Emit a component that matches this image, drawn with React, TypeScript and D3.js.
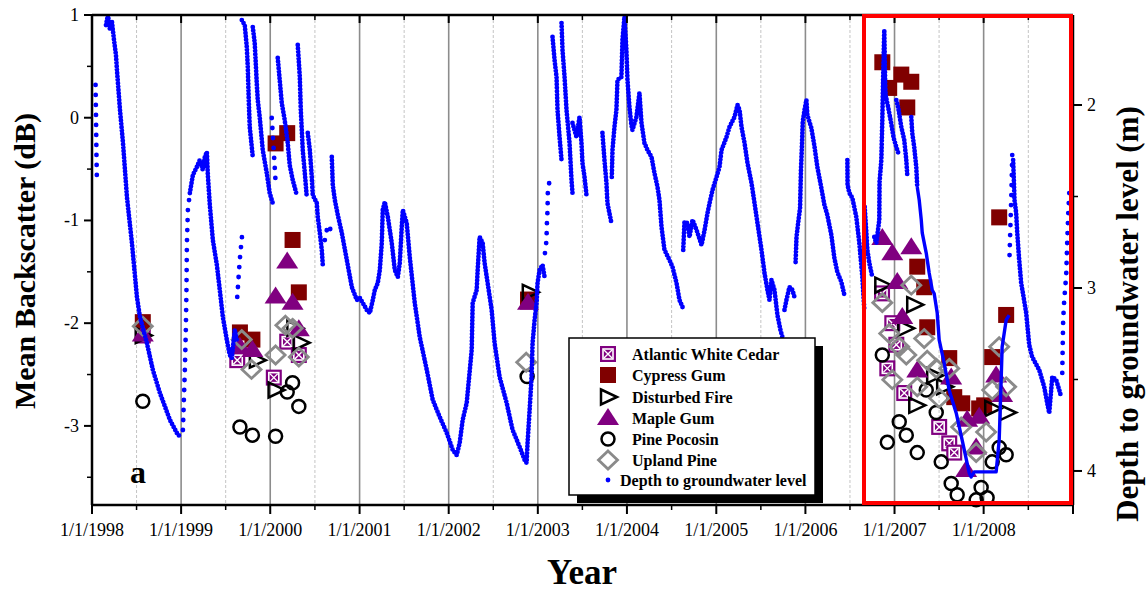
import React from "react";
import * as d3 from "d3";

// ---- data -------------------------------------------------------------
// [decimal year, value]
type Pt = [number, number];

const yearTicks = [1998, 1999, 2000, 2001, 2002, 2003, 2004, 2005, 2006, 2007, 2008];
const backscatterTicks = [1, 0, -1, -2, -3];
const depthTicks = [2, 3, 4];

// Mean backscatter (dB) by forest type
const atlanticWhiteCedar: Pt[] = [
  [1998.57, -2.12], [1999.63, -2.36], [2000.04, -2.53], [2000.19, -2.18], [2000.32, -2.31], [2002.89, -1.79],
  [2006.86, -1.71], [2006.975, -2.0], [2006.919, -2.44], [2007.02, -2.21], [2007.109, -2.68],
  [2007.501, -3.01], [2007.614, -3.17], [2007.67, -3.26],
];
const cypressGum: Pt[] = [
  [1998.57, -1.99], [1999.66, -2.09], [1999.8, -2.16], [2000.06, -0.25], [2000.19, -0.15], [2000.25, -1.19],
  [2000.32, -1.7], [2002.89, -1.77],
  [2006.863, 0.54], [2006.94, 0.29], [2007.076, 0.42], [2007.188, 0.35], [2007.143, 0.1],
  [2007.255, -1.45], [2007.333, -1.65], [2007.367, -2.04], [2007.614, -2.34], [2007.67, -2.72],
  [2007.76, -2.78], [2007.95, -2.83], [2008.006, -2.8], [2008.096, -2.33], [2008.174, -0.97], [2008.252, -1.92],
];
const disturbedFire: Pt[] = [
  [1998.57, -2.12], [1999.85, -2.36], [2000.06, -2.65], [2000.27, -2.05], [2000.34, -2.19], [2002.91, -1.7],
  [2006.863, -1.63], [2007.221, -1.82], [2007.12, -2.05], [2007.244, -2.8], [2007.445, -2.51],
  [2007.557, -2.62], [2008.096, -2.83], [2008.263, -2.87],
];
const mapleGum: Pt[] = [
  [1998.57, -2.11], [1999.66, -2.23], [1999.8, -2.26], [2000.06, -1.74], [2000.19, -1.4], [2000.25, -1.8],
  [2000.32, -2.06], [2002.89, -1.8],
  [2006.863, -1.17], [2006.975, -1.32], [2007.188, -1.26], [2007.031, -1.6], [2007.087, -1.94],
  [2007.255, -2.46], [2007.636, -2.53], [2007.815, -2.94], [2007.95, -2.91], [2007.916, -3.21],
  [2007.804, -3.43], [2008.14, -2.51], [2008.207, -2.7],
];
const pinePocosin: Pt[] = [
  [1998.57, -2.76], [1999.66, -3.01], [1999.8, -3.09], [2000.06, -3.1], [2000.19, -2.67], [2000.25, -2.58],
  [2000.32, -2.81], [2002.88, -2.52],
  [2006.863, -2.31], [2007.053, -2.96], [2007.132, -3.09], [2006.919, -3.16], [2007.255, -3.26],
  [2007.356, -2.65], [2007.468, -2.87], [2007.524, -3.35], [2007.636, -3.56], [2007.703, -3.67],
  [2007.916, -3.72], [2007.972, -3.6], [2008.039, -3.7], [2008.096, -3.35], [2008.174, -3.21], [2008.252, -3.28],
];
const uplandPine: Pt[] = [
  [1998.57, -2.03], [1999.68, -2.16], [1999.79, -2.45], [2000.06, -2.31], [2000.17, -2.02], [2000.25, -2.05],
  [2000.32, -2.33], [2002.87, -2.38],
  [2006.863, -1.8], [2007.188, -1.63], [2006.941, -2.1], [2007.053, -2.23], [2007.132, -2.31],
  [2007.333, -2.15], [2006.975, -2.55], [2007.367, -2.36], [2007.468, -2.44], [2007.614, -2.44],
  [2007.255, -2.62], [2007.501, -2.73], [2007.748, -3.01], [2008.028, -3.06], [2007.916, -3.26],
  [2008.174, -2.23], [2008.096, -2.65], [2008.252, -2.62],
];

// Depth to groundwater level (m); each run is a stretch of record without gaps
const groundwaterSegments: Pt[][] = [
  [[1998.04, 1.89], [1998.045, 2.06], [1998.05, 2.27], [1998.055, 2.41]],
  [[1998.157, 1.563], [1998.179, 1.508], [1998.202, 1.59], [1998.224, 1.546], [1998.247, 1.645], [1998.269, 1.727],
   [1998.28, 1.809], [1998.314, 2.027], [1998.348, 2.208], [1998.392, 2.503], [1998.448, 2.754], [1998.504, 3.049],
   [1998.538, 3.158], [1998.616, 3.301], [1998.683, 3.448], [1998.762, 3.574], [1998.874, 3.721], [1998.964, 3.803],
   [1999.008, 3.814]],
  [[1999.02, 3.776], [1999.031, 3.612], [1999.042, 3.448], [1999.053, 3.23], [1999.06, 3.011],
   [1999.065, 2.754], [1999.076, 2.574], [1999.098, 2.481]],
  [[1999.098, 2.481], [1999.132, 2.383], [1999.176, 2.339], [1999.21, 2.301],
   [1999.244, 2.355], [1999.266, 2.284], [1999.289, 2.257], [1999.3, 2.383], [1999.322, 2.546], [1999.356, 2.738],
   [1999.401, 2.874], [1999.434, 3.011], [1999.468, 3.158], [1999.513, 3.284], [1999.546, 3.366], [1999.569, 3.383],
   [1999.602, 3.23], [1999.625, 3.284]],
  [[1999.63, 3.049], [1999.658, 2.847], [1999.692, 2.672]],
  [[1999.681, 1.536], [1999.714, 1.563], [1999.737, 1.683], [1999.748, 1.792], [1999.759, 1.973], [1999.77, 2.12],
   [1999.793, 2.23], [1999.804, 2.284]],
  [[1999.804, 1.574], [1999.826, 1.661], [1999.849, 1.88], [1999.86, 1.973], [1999.882, 2.066], [1999.916, 2.246],
   [1999.961, 2.372], [1999.994, 2.481], [2000.028, 2.536]],
  [[2000.017, 2.071], [2000.039, 2.246], [2000.062, 2.437]],
  [[2000.084, 1.743], [2000.106, 1.863], [2000.129, 1.989], [2000.162, 2.082], [2000.196, 2.208], [2000.218, 2.328],
   [2000.252, 2.41], [2000.297, 2.492]],
  [[2000.308, 1.672], [2000.331, 1.847], [2000.342, 2.027], [2000.364, 2.246], [2000.387, 2.372], [2000.409, 2.503]],
  [[2000.42, 2.153], [2000.443, 2.246], [2000.465, 2.393], [2000.476, 2.492], [2000.521, 2.536], [2000.532, 2.612],
   [2000.555, 2.699], [2000.577, 2.792], [2000.588, 2.874]],
  [[2000.611, 2.738], [2000.633, 2.683], [2000.667, 2.656], [2000.678, 2.71]],
  [[2000.689, 2.284], [2000.7, 2.437], [2000.723, 2.519], [2000.756, 2.601], [2000.801, 2.699], [2000.857, 2.847],
   [2000.913, 2.995], [2000.969, 3.066], [2001.003, 3.055], [2001.036, 3.082], [2001.081, 3.12], [2001.115, 3.137],
   [2001.148, 3.066], [2001.171, 3.011], [2001.204, 2.973], [2001.227, 2.902], [2001.249, 2.754], [2001.26, 2.574],
   [2001.283, 2.53], [2001.317, 2.612], [2001.361, 2.754], [2001.395, 2.902], [2001.429, 2.94], [2001.451, 2.863],
   [2001.473, 2.667], [2001.485, 2.574], [2001.529, 2.645], [2001.563, 2.831], [2001.619, 3.082], [2001.675, 3.268],
   [2001.754, 3.448], [2001.821, 3.612], [2001.899, 3.705], [2001.978, 3.792], [2002.045, 3.885], [2002.09, 3.913],
   [2002.123, 3.847], [2002.157, 3.721], [2002.202, 3.628], [2002.258, 3.339], [2002.269, 3.082], [2002.314, 3.011],
   [2002.325, 2.902], [2002.347, 2.721], [2002.381, 2.754], [2002.403, 2.863], [2002.437, 2.973], [2002.482, 3.12],
   [2002.515, 3.301], [2002.571, 3.486], [2002.65, 3.628], [2002.717, 3.776], [2002.796, 3.869], [2002.852, 3.94],
   [2002.874, 3.956], [2002.885, 3.847], [2002.908, 3.667], [2002.93, 3.486], [2002.941, 3.301], [2002.964, 3.175],
   [2002.986, 3.082], [2002.997, 2.973], [2003.02, 2.902], [2003.053, 2.874], [2003.076, 2.94]],
  [[2003.08, 2.809], [2003.098, 2.738], [2003.1, 2.667], [2003.109, 2.574], [2003.112, 2.481], [2003.132, 2.41]],
  [[2003.165, 1.628], [2003.188, 1.754], [2003.21, 1.847], [2003.221, 2.027], [2003.244, 2.175], [2003.266, 2.301]],
  [[2003.266, 1.552], [2003.277, 1.699], [2003.3, 1.847], [2003.322, 2.027], [2003.356, 2.208], [2003.378, 2.41],
   [2003.389, 2.481]],
  [[2003.389, 2.098], [2003.434, 2.175], [2003.468, 2.066], [2003.49, 2.208], [2003.501, 2.317], [2003.524, 2.393],
   [2003.546, 2.492]],
  [[2003.725, 2.153], [2003.748, 2.301], [2003.77, 2.426], [2003.781, 2.536], [2003.826, 2.645]],
  [[2003.83, 2.393], [2003.838, 2.246], [2003.86, 2.12], [2003.882, 2.027], [2003.894, 1.863], [2003.938, 1.847],
   [2003.95, 1.645], [2003.972, 1.519], [2003.994, 1.699], [2004.006, 1.863], [2004.028, 2.011], [2004.05, 2.109],
   [2004.062, 2.137], [2004.106, 2.066], [2004.14, 1.934], [2004.163, 2.098], [2004.196, 2.208], [2004.23, 2.246],
   [2004.275, 2.284], [2004.308, 2.372], [2004.342, 2.448], [2004.364, 2.519], [2004.387, 2.667], [2004.42, 2.792],
   [2004.476, 2.847], [2004.51, 2.885], [2004.555, 2.973], [2004.588, 3.066], [2004.622, 3.104]],
  [[2004.63, 2.792], [2004.644, 2.639], [2004.678, 2.645], [2004.7, 2.721], [2004.734, 2.628], [2004.779, 2.683],
   [2004.835, 2.765], [2004.869, 2.683], [2004.902, 2.59], [2004.925, 2.536], [2004.958, 2.464], [2005.003, 2.393],
   [2005.036, 2.339], [2005.059, 2.246], [2005.115, 2.175], [2005.148, 2.12], [2005.204, 2.066], [2005.238, 2.0],
   [2005.261, 2.027], [2005.283, 2.12], [2005.317, 2.208], [2005.35, 2.317], [2005.395, 2.426], [2005.429, 2.536],
   [2005.462, 2.645], [2005.507, 2.792], [2005.541, 2.918], [2005.574, 3.011], [2005.597, 3.066], [2005.619, 2.956],
   [2005.653, 3.011], [2005.686, 3.148], [2005.72, 3.23], [2005.742, 3.268]],
  [[2005.765, 3.12], [2005.787, 3.066], [2005.821, 2.995], [2005.854, 3.011], [2005.877, 3.049]],
  [[2005.89, 2.858], [2005.9, 2.721], [2005.92, 2.639], [2005.94, 2.563], [2005.95, 2.355], [2005.96, 2.235],
   [2005.97, 2.093], [2005.99, 2.027], [2006.011, 1.973], [2006.022, 2.055], [2006.067, 2.126], [2006.101, 2.224],
   [2006.134, 2.339], [2006.179, 2.454], [2006.213, 2.546], [2006.246, 2.601], [2006.291, 2.71], [2006.325, 2.836],
   [2006.358, 2.913], [2006.403, 2.967], [2006.437, 3.038]],
  [[2006.471, 2.301], [2006.473, 2.437], [2006.493, 2.481], [2006.527, 2.508], [2006.571, 2.612], [2006.605, 2.754],
   [2006.639, 2.94], [2006.661, 3.12]],
  [[2006.665, 2.557], [2006.684, 2.699], [2006.695, 2.792], [2006.717, 2.863], [2006.751, 2.94]],
  [[2006.773, 2.721], [2006.796, 2.754], [2006.829, 2.628], [2006.832, 2.421], [2006.852, 2.301], [2006.863, 2.082],
   [2006.874, 1.809], [2006.885, 1.59], [2006.89, 1.738], [2006.895, 1.88], [2006.9, 1.945], [2006.93, 2.016],
   [2006.96, 2.093], [2006.99, 2.18], [2007.02, 2.23], [2007.05, 2.273]],
  [[2007.02, 1.973], [2007.042, 2.016], [2007.076, 2.12], [2007.109, 2.191], [2007.132, 2.301], [2007.143, 2.383]],
  [[2007.188, 2.066], [2007.199, 2.153], [2007.221, 2.23], [2007.244, 2.339], [2007.255, 2.448]],
  [[2008.29, 2.82], [2008.3, 2.656], [2008.31, 2.492], [2008.32, 2.273]],
  [[2008.33, 2.301], [2008.34, 2.437], [2008.345, 2.519], [2008.364, 2.59], [2008.376, 2.699], [2008.398, 2.847],
   [2008.42, 2.973], [2008.443, 3.038], [2008.476, 3.137], [2008.51, 3.311], [2008.543, 3.377], [2008.622, 3.448],
   [2008.678, 3.541], [2008.711, 3.628], [2008.734, 3.683], [2008.756, 3.557], [2008.768, 3.486], [2008.812, 3.503],
   [2008.846, 3.557], [2008.868, 3.596]],
  [[2008.88, 3.464], [2008.885, 3.311], [2008.89, 3.175], [2008.902, 3.066], [2008.924, 2.929], [2008.936, 2.738],
   [2008.947, 2.59], [2008.958, 2.481]],
];
// runs with few readings (rapid recharge events) are dotted more loosely
const sparseRuns = [0, 2, 4, 7, 11, 13, 27, 29];

// 2007-2008 drought: record drawn as a connected line
const groundwaterLine2007: Pt[] = [
  [2007.255, 2.448], [2007.277, 2.519], [2007.3, 2.628], [2007.311, 2.699], [2007.356, 2.809], [2007.389, 2.918],
  [2007.423, 3.011], [2007.445, 3.03], [2007.479, 3.137], [2007.501, 3.284], [2007.557, 3.41], [2007.613, 3.557],
  [2007.692, 3.683], [2007.759, 3.831], [2007.838, 4.011], [2007.86, 4.033], [2007.894, 4.005], [2008.14, 4.005],
  [2008.174, 3.831], [2008.196, 3.503], [2008.207, 3.322], [2008.252, 3.175], [2008.286, 3.148],
];

// ---- layout -----------------------------------------------------------
const W = 1147;
const H = 592;
const L = 92, R = 1073, T = 15, B = 505;
const SERIF = "'Liberation Serif', 'Times New Roman', serif";
const PURPLE = "#800080";
const MAROON = "#800000";
const GREY = "#8a8a8a";
const BLUE = "#0000ff";

const toDate = (y: number) => {
  const y0 = Math.floor(y);
  const a = Date.UTC(y0, 0, 1);
  const b = Date.UTC(y0 + 1, 0, 1);
  return new Date(a + (y - y0) * (b - a));
};

const x = d3.scaleUtc().domain([toDate(1998), toDate(2009)]).range([L, R]);
const yL = d3.scaleLinear().domain([1, -3.77]).range([T, B]);
const yR = d3.scaleLinear().domain([1.508, 4.186]).range([T, B]);

type Kind = "awc" | "cypress" | "fire" | "maple" | "pine" | "upland";

function Marker({ kind, cx, cy }: { kind: Kind; cx: number; cy: number }) {
  switch (kind) {
    case "cypress":
      return <rect x={cx - 8} y={cy - 8} width={16} height={16} fill={MAROON} />;
    case "awc":
      return (
        <g>
          <rect x={cx - 8} y={cy - 8} width={16} height={16} fill={PURPLE} />
          <rect x={cx - 5} y={cy - 5} width={10} height={10} fill="none" stroke="#fff" strokeWidth={1.6} />
          <path d={`M${cx - 4},${cy - 4}L${cx + 4},${cy + 4}M${cx + 4},${cy - 4}L${cx - 4},${cy + 4}`} stroke="#fff" strokeWidth={1.4} />
        </g>
      );
    case "fire":
      return (
        <path d={`M${cx - 7},${cy - 7.5}L${cx + 9},${cy}L${cx - 7},${cy + 7.5}Z`} fill="none" stroke="#000" strokeWidth={2.5} strokeLinejoin="miter" />
      );
    case "maple":
      return <path d={`M${cx},${cy - 10}L${cx + 11},${cy + 7}L${cx - 11},${cy + 7}Z`} fill={PURPLE} />;
    case "pine":
      return <circle cx={cx} cy={cy} r={6.5} fill="none" stroke="#000" strokeWidth={2.5} />;
    case "upland":
      return (
        <path d={`M${cx},${cy - 9}L${cx + 9.5},${cy}L${cx},${cy + 9}L${cx - 9.5},${cy}Z`} fill="none" stroke={GREY} strokeWidth={2.8} />
      );
  }
}

const seriesList: { kind: Kind; label: string; data: Pt[] }[] = [
  { kind: "awc", label: "Atlantic White Cedar", data: atlanticWhiteCedar },
  { kind: "cypress", label: "Cypress Gum", data: cypressGum },
  { kind: "fire", label: "Disturbed Fire", data: disturbedFire },
  { kind: "maple", label: "Maple Gum", data: mapleGum },
  { kind: "pine", label: "Pine Pocosin", data: pinePocosin },
  { kind: "upland", label: "Upland Pine", data: uplandPine },
];

export default function App() {
  const line = d3
    .line<Pt>()
    .x((d) => x(toDate(d[0])))
    .y((d) => yR(d[1]));

  const midYears = yearTicks.map((y) => y + 0.5);
  const gridYears = yearTicks.slice(1);
  const minorLeft = [0.5, -0.5, -1.5, -2.5, -3.5];
  const minorRight = [2.5, 3.5];

  const legendX = 569, legendY = 338, legendW = 246, legendH = 157;
  const rowY = [354, 375, 397, 418, 439, 460, 480];

  return (
    <svg
      width={W}
      height={H}
      viewBox={`0 0 ${W} ${H}`}
      style={{ position: "absolute", left: 0, top: 0, display: "block", background: "#fff" }}
      fontFamily={SERIF}
    >
      <defs>
        <clipPath id="plotClip">
          <rect x={L} y={T} width={R - L} height={B - T} />
        </clipPath>
      </defs>

      {/* grid */}
      {midYears.map((y) => (
        <line key={"m" + y} x1={x(toDate(y))} x2={x(toDate(y))} y1={T} y2={B} stroke="#c4c4c4" strokeWidth={1} strokeDasharray="3 2" />
      ))}
      {gridYears.map((y) => (
        <line key={"g" + y} x1={x(toDate(y))} x2={x(toDate(y))} y1={T} y2={B} stroke="#8c8c8c" strokeWidth={1.6} />
      ))}

      {/* backscatter markers */}
      {seriesList.map((s) => (
        <g key={s.kind}>
          {s.data.map((d, i) => (
            <Marker key={i} kind={s.kind} cx={x(toDate(d[0]))} cy={yL(d[1])} />
          ))}
        </g>
      ))}

      {/* groundwater depth */}
      <g clipPath="url(#plotClip)">
        {groundwaterSegments.map((seg, i) => (
          <path
            key={i}
            d={line(seg) || ""}
            fill="none"
            stroke={BLUE}
            strokeWidth={4.8}
            strokeLinecap="round"
            strokeDasharray={sparseRuns.includes(i) ? "0 10" : "0 3.4"}
          />
        ))}
        <path d={line(groundwaterLine2007) || ""} fill="none" stroke={BLUE} strokeWidth={3.4} strokeLinejoin="round" />
      </g>

      {/* frame */}
      <line x1={L} x2={L} y1={T} y2={B} stroke="#000" strokeWidth={2.5} />
      <line x1={L} x2={R} y1={B} y2={B} stroke="#000" strokeWidth={2.5} />
      <line x1={L} x2={R} y1={T} y2={T} stroke="#000" strokeWidth={2.5} />
      <line x1={R} x2={R} y1={T} y2={B} stroke="#000" strokeWidth={2.5} />

      {/* x ticks, bottom (outward) and top (inward) */}
      {[...yearTicks, 2009].map((y) => (
        <g key={"xt" + y}>
          <line x1={x(toDate(y))} x2={x(toDate(y))} y1={B} y2={B + 9} stroke="#000" strokeWidth={2} />
          <line x1={x(toDate(y))} x2={x(toDate(y))} y1={T} y2={T + 8} stroke="#000" strokeWidth={2} />
        </g>
      ))}
      {midYears.map((y) => (
        <g key={"xm" + y}>
          <line x1={x(toDate(y))} x2={x(toDate(y))} y1={B} y2={B + 5} stroke="#000" strokeWidth={1.5} />
          <line x1={x(toDate(y))} x2={x(toDate(y))} y1={T} y2={T + 5} stroke="#000" strokeWidth={1.5} />
        </g>
      ))}
      {yearTicks.map((y) => (
        <text key={"xl" + y} x={x(toDate(y))} y={536} fontSize={18} textAnchor="middle" fill="#000">
          {`1/1/${y}`}
        </text>
      ))}

      {/* left axis */}
      {backscatterTicks.map((v) => (
        <g key={"yl" + v}>
          <line x1={L - 8} x2={L} y1={yL(v)} y2={yL(v)} stroke="#000" strokeWidth={2} />
          <text x={79} y={yL(v) + 6} fontSize={18} textAnchor="end" fill="#000">
            {v}
          </text>
        </g>
      ))}
      {minorLeft.map((v) => (
        <line key={"ylm" + v} x1={L - 5} x2={L} y1={yL(v)} y2={yL(v)} stroke="#000" strokeWidth={1.5} />
      ))}

      {/* right axis */}
      {depthTicks.map((v) => (
        <g key={"yr" + v}>
          <line x1={R} x2={R + 9} y1={yR(v)} y2={yR(v)} stroke="#000" strokeWidth={2} />
          <text x={1087} y={yR(v) + 6} fontSize={18} fill="#000">
            {v}
          </text>
        </g>
      ))}
      {minorRight.map((v) => (
        <line key={"yrm" + v} x1={R} x2={R + 5} y1={yR(v)} y2={yR(v)} stroke="#000" strokeWidth={1.5} />
      ))}

      {/* highlighted drought window */}
      <rect x={864} y={16} width={207} height={487} fill="none" stroke="#ff0000" strokeWidth={4} />

      {/* panel letter */}
      <text x={130} y={483} fontSize={32} fontWeight="bold" fill="#000">
        a
      </text>

      {/* legend */}
      <rect x={legendX + 8} y={legendY + 8} width={legendW} height={legendH} fill="#000" />
      <rect x={legendX} y={legendY} width={legendW} height={legendH} fill="#fff" stroke="#000" strokeWidth={1.5} />
      {seriesList.map((s, i) => (
        <g key={"lg" + s.kind}>
          <Marker kind={s.kind} cx={608} cy={rowY[i]} />
          <text x={632} y={rowY[i] + 5.5} fontSize={16} fontWeight="bold" fill="#000">
            {s.label}
          </text>
        </g>
      ))}
      <circle cx={608} cy={rowY[6]} r={2.4} fill={BLUE} />
      <text x={620} y={rowY[6] + 5.5} fontSize={16} fontWeight="bold" fill="#000">
        Depth to groundwater level
      </text>

      {/* axis titles */}
      <text x={582} y={584} fontSize={35} fontWeight="bold" textAnchor="middle" fill="#000">
        Year
      </text>
      <text transform="translate(35,261) rotate(-90)" fontSize={30} fontWeight="bold" textAnchor="middle" fill="#000">
        Mean Backscatter (dB)
      </text>
      <text transform="translate(1138,314) rotate(-90)" fontSize={31} fontWeight="bold" textAnchor="middle" fill="#000">
        Depth to groundwater level (m)
      </text>
    </svg>
  );
}
